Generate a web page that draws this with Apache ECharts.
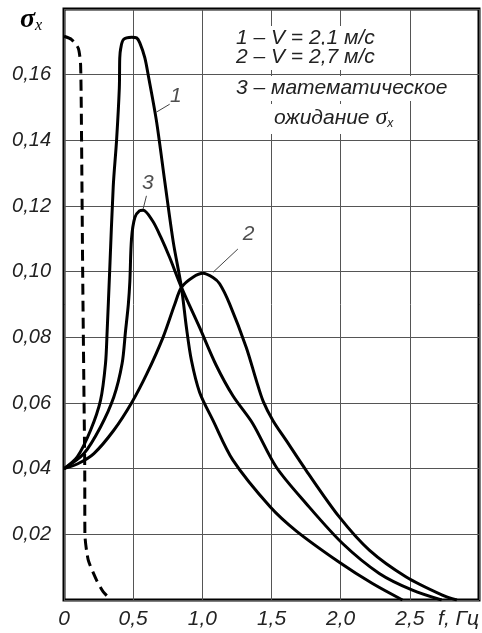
<!DOCTYPE html>
<html>
<head>
<meta charset="utf-8">
<script src="https://cdn.jsdelivr.net/npm/echarts@6/dist/echarts.min.js"></script>
<style>
    html, body { margin: 0; padding: 0; background: #fff; }
    #chart { width: 482px; height: 633px; }
</style>
</head>
<body>
<div id="chart"></div>
<script>
// кривая 1 - V = 2,1 м/с
var curve1 = [
    [0, 0.040], [0.096, 0.0436], [0.192, 0.0517], [0.264, 0.0608], [0.30, 0.072], [0.312, 0.082],
    [0.33, 0.100], [0.356, 0.126], [0.38, 0.140], [0.40, 0.156], [0.403, 0.165], [0.41, 0.168],
    [0.43, 0.1707], [0.49, 0.1714], [0.525, 0.1712], [0.548, 0.1697], [0.584, 0.1652], [0.61, 0.1596],
    [0.668, 0.146], [0.73, 0.127], [0.79, 0.109], [0.849, 0.0952], [0.885, 0.083], [0.921, 0.073],
    [0.98, 0.0633], [1.077, 0.0547], [1.221, 0.0426], [1.49, 0.0284], [1.68, 0.021], [1.99, 0.0115],
    [2.23, 0.005], [2.447, 0]
];
// кривая 2 - V = 2,7 м/с
var curve2 = [
    [0, 0.040], [0.1, 0.0415], [0.216, 0.0446], [0.36, 0.0517], [0.488, 0.060], [0.60, 0.069],
    [0.716, 0.080], [0.80, 0.090], [0.849, 0.0952], [0.932, 0.0983], [1.005, 0.0995], [1.077, 0.0982],
    [1.125, 0.0963], [1.197, 0.0902], [1.317, 0.077], [1.39, 0.0669], [1.44, 0.0605],
    [1.51, 0.0547], [1.606, 0.0486], [1.75, 0.0395], [1.99, 0.0253], [2.207, 0.0152], [2.471, 0.0071],
    [2.735, 0.0015], [2.84, 0]
];
// кривая 3 - математическое ожидание
var curve3 = [
    [0, 0.040], [0.144, 0.0446], [0.264, 0.0527], [0.36, 0.0618], [0.42, 0.072], [0.445, 0.082],
    [0.465, 0.090], [0.476, 0.097], [0.488, 0.110], [0.512, 0.1165], [0.545, 0.1185], [0.572, 0.1187],
    [0.64, 0.1155], [0.70, 0.1105], [0.764, 0.1043], [0.849, 0.0952], [0.98, 0.083], [1.10, 0.0715],
    [1.221, 0.0622], [1.365, 0.0537], [1.534, 0.0405], [1.75, 0.0294], [2.014, 0.0172], [2.279, 0.0081],
    [2.519, 0.003], [2.73, 0]
];
// штриховая линия
var dashed = [
    [0, 0.1717], [0.055, 0.1707], [0.104, 0.168], [0.12, 0.163], [0.127, 0.14], [0.135, 0.10],
    [0.145, 0.06], [0.15, 0.04], [0.151, 0.02], [0.175, 0.0122], [0.236, 0.006], [0.284, 0.0025], [0.34, 0]
];

// номера кривых и выноски
var callouts = [
    { name: '1', value: [0.808, 0.1535] },
    { name: '3', value: [0.606, 0.1271] },
    { name: '2', value: [1.334, 0.1115] }
];
var leaders = [
    [[0.668, 0.1486], [0.764, 0.151]],
    [[0.572, 0.1191], [0.596, 0.1231]],
    [[1.077, 0.0998], [1.257, 0.1069]]
];

var legendLines = ['1 – V = 2,1 м/с', '2 – V = 2,7 м/с', '3 – математическое'];

var textFont = "'Liberation Sans', Arial, sans-serif";

var myChart = echarts.init(document.getElementById('chart'));

function lineSeries(data) {
    return {
        type: 'line',
        data: data,
        showSymbol: false,
        smooth: 0.3,
        lineStyle: { color: '#000', width: 3 },
        silent: true,
        z: 3
    };
}

var series = [lineSeries(curve1), lineSeries(curve2), lineSeries(curve3)];

var ds = lineSeries(dashed);
ds.smooth = 0.2;
ds.lineStyle = { color: '#000', width: 3, type: [11, 6] };
series.push(ds);

var leaderData = [];
for (var i in leaders) {
    leaderData.push([{ coord: leaders[i][0] }, { coord: leaders[i][1] }]);
}

series.push({
    type: 'scatter',
    data: callouts,
    symbolSize: 0,
    silent: true,
    label: {
        show: true,
        position: 'inside',
        formatter: '{b}',
        fontFamily: textFont,
        fontStyle: 'italic',
        fontSize: 21,
        color: '#222'
    },
    markLine: {
        silent: true,
        symbol: 'none',
        label: { show: false },
        lineStyle: { color: '#444', width: 1, type: 'solid' },
        data: leaderData
    },
    z: 4
});

var graphics = [];
for (var j = 0; j < legendLines.length; j++) {
    graphics.push({
        type: 'text',
        left: 232,
        top: 26 + j * (j == 2 ? 25 : 19),
        z: 10,
        style: {
            text: legendLines[j],
            fill: '#222',
            font: 'italic 21px ' + textFont,
            backgroundColor: '#fff',
            padding: [2, 8, 2, 4]
        }
    });
}
graphics.push({
    type: 'text',
    left: 270,
    top: 104,
    z: 10,
    style: {
        text: '{a|ожидание }{s|σ}{x|x}',
        fill: '#222',
        backgroundColor: '#fff',
        padding: [2, 6, 4, 4],
        rich: {
            a: { fontFamily: textFont, fontStyle: 'italic', fontSize: 21, fill: '#222' },
            s: { fontFamily: "'Liberation Serif', serif", fontStyle: 'italic', fontSize: 24, fill: '#222' },
            x: { fontFamily: textFont, fontStyle: 'italic', fontSize: 12, fill: '#222', padding: [12, 0, 0, 0] }
        }
    }
});
// обозначение оси Y
graphics.push({
    type: 'text',
    left: 20,
    top: 6,
    z: 10,
    style: {
        text: '{s|σ}{x|x}',
        rich: {
            s: { fontFamily: "'Liberation Serif', serif", fontStyle: 'italic', fontWeight: 'bold', fontSize: 28, fill: '#000' },
            x: { fontFamily: "'Liberation Serif', serif", fontStyle: 'italic', fontSize: 16, fill: '#000', padding: [12, 0, 0, 0] }
        }
    }
});

option = {
    backgroundColor: '#fff',
    animation: false,
    grid: {
        show: true,
        left: 64,
        right: 3,
        top: 9,
        bottom: 33,
        borderColor: '#000',
        borderWidth: 3,
        backgroundColor: '#fff'
    },
    xAxis: {
        type: 'value',
        min: 0,
        max: 3,
        interval: 0.5,
        axisLine: { show: false },
        axisTick: { show: false },
        splitLine: { show: true, lineStyle: { color: '#555', width: 1 } },
        axisLabel: {
            margin: 9,
            showMaxLabel: true,
            alignMaxLabel: 'right',
            fontFamily: textFont,
            fontStyle: 'italic',
            fontSize: 21,
            color: '#222',
            formatter: function (value) {
                if (value == 0) return '0';
                if (value >= 3) return 'f, Гц';
                return value.toFixed(1).replace('.', ',');
            }
        }
    },
    yAxis: {
        type: 'value',
        min: 0,
        max: 0.18,
        interval: 0.02,
        axisLine: { show: false },
        axisTick: { show: false },
        splitLine: { show: true, lineStyle: { color: '#555', width: 1 } },
        axisLabel: {
            margin: 13,
            fontFamily: textFont,
            fontStyle: 'italic',
            fontSize: 20,
            color: '#222',
            formatter: function (value) {
                if (value == 0 || value > 0.17) return '';
                return value.toFixed(2).replace('.', ',');
            }
        }
    },
    graphic: graphics,
    series: series
};

myChart.setOption(option);
window.onresize = myChart.resize;
</script>
</body>
</html>
